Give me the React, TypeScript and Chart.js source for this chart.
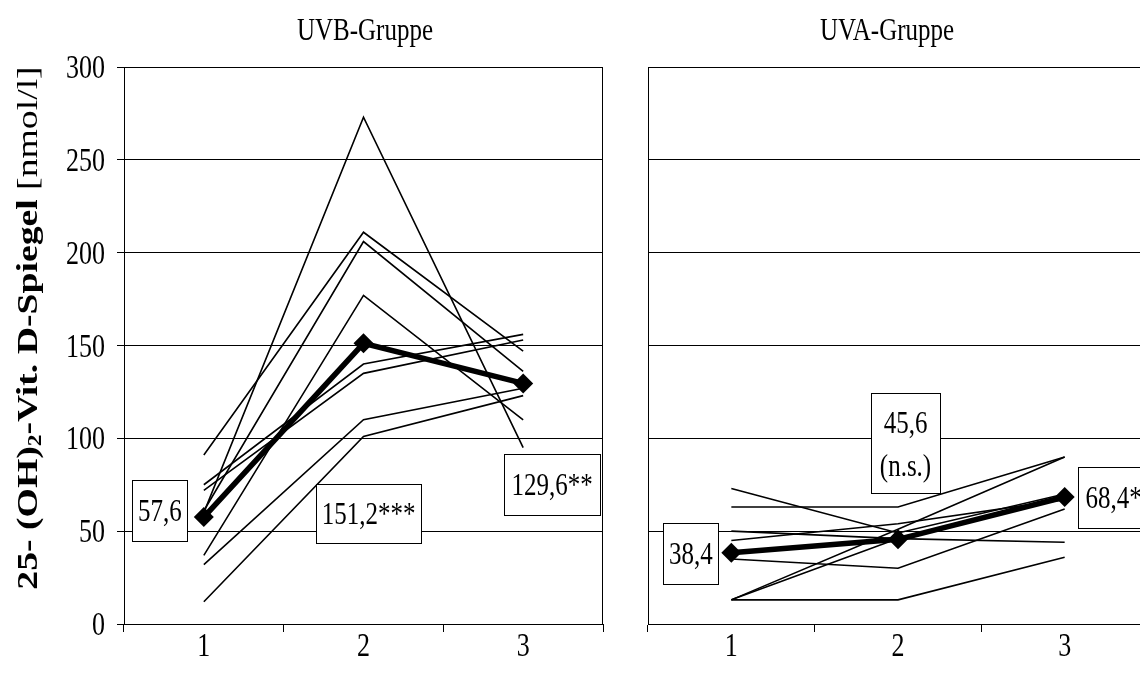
import React, { useEffect, useRef } from "react";
import { Chart, registerables } from "chart.js";

Chart.register(...registerables);

// ---------- data ----------
const categories = ["1", "2", "3"];
const yTickValues = [0, 50, 100, 150, 200, 250, 300];

const uvbPatient1 = [60, 273, 95];
const uvbPatient2 = [91, 211, 147];
const uvbPatient3 = [61, 206, 136];
const uvbPatient4 = [37, 177, 110];
const uvbPatient5 = [75, 140, 156];
const uvbPatient6 = [72, 135, 153];
const uvbPatient7 = [32, 110, 127];
const uvbPatient8 = [12, 101, 123];
const uvbMean = [57.6, 151.2, 129.6];
const uvbMeanLabels = [["57,6"], ["151,2***"], ["129,6**"]];

const uvaPatient1 = [73, 49, 70];
const uvaPatient2 = [63, 63, 90];
const uvaPatient3 = [50, 46, 44];
const uvaPatient4 = [45, 54, 67];
const uvaPatient5 = [35, 30, 62];
const uvaPatient6 = [13, 13, 36];
const uvaPatient7 = [13, 51, 90];
const uvaPatient8 = [13, 46, 68];
const uvaMean = [38.4, 45.6, 68.4];
const uvaMeanLabels = [["38,4"], ["45,6", "(n.s.)"], ["68,4*"]];

const uvbTitle = "UVB-Gruppe";
const uvaTitle = "UVA-Gruppe";
const yTitleBold1 = "25- (OH)";
const yTitleSub = "2";
const yTitleBold2 = "-Vit. D-Spiegel ";
const yTitleNormal = "[nmol/l]";

// ---------- styles / layout ----------
const FONT = '"Liberation Serif", "Times New Roman", serif';
const SY = 1.3; // vertical stretch of all text
const TICK_F = 26;
const TITLE_F = 25;
const BOX_F = 25;
const YT_F = 29;

type Box = { dx: number; dy: number; w: number; h: number };
type Panel = {
  series: number[][];
  mean: number[];
  labels: string[][];
  title: string;
  canvasLeft: number;
  canvasWidth: number;
  padRight: number;
  yAxisWidth: number;
  showYTicks: boolean;
  titleX: number;
  boxes: Box[];
  yTitle: boolean;
};

const panels: Panel[] = [
  {
    series: [uvbPatient1, uvbPatient2, uvbPatient3, uvbPatient4, uvbPatient5, uvbPatient6, uvbPatient7, uvbPatient8],
    mean: uvbMean,
    labels: uvbMeanLabels,
    title: uvbTitle,
    canvasLeft: 0,
    canvasWidth: 620,
    padRight: 17,
    yAxisWidth: 124,
    showYTicks: true,
    titleX: 365,
    boxes: [
      { dx: -44, dy: -6.5, w: 55, h: 61 },
      { dx: 5, dy: 170, w: 105, h: 59 },
      { dx: 29, dy: 101, w: 96, h: 61 },
    ],
    yTitle: true,
  },
  {
    series: [uvaPatient1, uvaPatient2, uvaPatient3, uvaPatient4, uvaPatient5, uvaPatient6, uvaPatient7, uvaPatient8],
    mean: uvaMean,
    labels: uvaMeanLabels,
    title: uvaTitle,
    canvasLeft: 620,
    canvasWidth: 540,
    padRight: 12,
    yAxisWidth: 28,
    showYTicks: false,
    titleX: 267,
    boxes: [
      { dx: -40.5, dy: 1, w: 55, h: 61 },
      { dx: 7.5, dy: -96, w: 69, h: 100 },
      { dx: 49, dy: 0.5, w: 72, h: 61 },
    ],
    yTitle: false,
  },
];

function stretchedText(
  ctx: CanvasRenderingContext2D,
  text: string,
  x: number,
  cy: number,
  size: number,
  align: CanvasTextAlign,
  weight = "normal"
) {
  ctx.save();
  ctx.translate(x, cy);
  ctx.scale(1, SY);
  ctx.font = `${weight} ${size}px ${FONT}`;
  ctx.textAlign = align;
  ctx.textBaseline = "alphabetic";
  ctx.fillStyle = "#000";
  ctx.fillText(text, 0, 0.33 * size);
  ctx.restore();
}

function makePlugin(p: Panel) {
  return {
    id: "panelDecor",
    afterDatasetsDraw(chart: any) {
      const ctx: CanvasRenderingContext2D = chart.ctx;
      const ca = chart.chartArea;
      const xs = chart.scales.x;
      const ys = chart.scales.y;
      ctx.save();
      ctx.strokeStyle = "#000";
      ctx.lineWidth = 1;
      // plot frame (top + right)
      const R = Math.round(ca.right) - 0.5;
      const L = Math.round(ca.left) + 0.5;
      const T = Math.round(ca.top) + 0.5;
      const B = Math.round(ca.bottom) + 0.5;
      ctx.beginPath();
      ctx.moveTo(L, T);
      ctx.lineTo(R, T);
      ctx.lineTo(R, B);
      ctx.stroke();
      // mean value boxes
      p.mean.forEach((v, i) => {
        const px = xs.getPixelForValue(i);
        const py = ys.getPixelForValue(v);
        const b = p.boxes[i];
        const cx = px + b.dx;
        const cy = py + b.dy;
        const x0 = Math.round(cx - b.w / 2) + 0.5;
        const y0 = Math.round(cy - b.h / 2) + 0.5;
        ctx.fillStyle = "#fff";
        ctx.fillRect(x0, y0, b.w, b.h);
        ctx.strokeRect(x0, y0, b.w, b.h);
        const lines = p.labels[i];
        const gap = 43;
        lines.forEach((t, k) => {
          const ly = cy + (k - (lines.length - 1) / 2) * gap;
          stretchedText(ctx, t, cx, ly, BOX_F, "center");
        });
      });
      ctx.restore();
    },
    afterDraw(chart: any) {
      const ctx: CanvasRenderingContext2D = chart.ctx;
      const ca = chart.chartArea;
      const xs = chart.scales.x;
      const ys = chart.scales.y;
      if (p.showYTicks) {
        yTickValues.forEach((v) => {
          stretchedText(ctx, String(v), ca.left - 19, ys.getPixelForValue(v), TICK_F, "right");
        });
      }
      categories.forEach((c, i) => {
        stretchedText(ctx, c, xs.getPixelForValue(i), 645, TICK_F, "center");
      });
      stretchedText(ctx, p.title, p.titleX, 29, TITLE_F, "center");
      if (p.yTitle) {
        ctx.save();
        ctx.translate(27, 328);
        ctx.scale(1, SY);
        ctx.rotate(-Math.PI / 2);
        ctx.fillStyle = "#000";
        ctx.textBaseline = "alphabetic";
        ctx.textAlign = "left";
        const parts = [
          { t: yTitleBold1, f: `bold ${YT_F}px ${FONT}`, dy: 0 },
          { t: yTitleSub, f: `bold ${Math.round(YT_F * 0.62)}px ${FONT}`, dy: 0.15 * YT_F },
          { t: yTitleBold2, f: `bold ${YT_F}px ${FONT}`, dy: 0 },
          { t: yTitleNormal, f: `normal ${YT_F}px ${FONT}`, dy: 0 },
        ];
        let total = 0;
        parts.forEach((q) => {
          ctx.font = q.f;
          total += ctx.measureText(q.t).width;
        });
        let x = -total / 2;
        parts.forEach((q) => {
          ctx.font = q.f;
          ctx.fillText(q.t, x, 0.33 * YT_F + q.dy);
          x += ctx.measureText(q.t).width;
        });
        ctx.restore();
      }
    },
  };
}

function PanelChart({ p }: { p: Panel }) {
  const ref = useRef<HTMLCanvasElement | null>(null);
  useEffect(() => {
    if (!ref.current) return;
    const datasets: any[] = [
      {
        data: p.mean,
        borderColor: "#000",
        backgroundColor: "#000",
        borderWidth: 5.5,
        pointStyle: "rectRot",
        pointRadius: 10,
        pointBorderWidth: 0,
        pointBackgroundColor: "#000",
        tension: 0,
      },
      ...p.series.map((s) => ({
        data: s,
        borderColor: "#000",
        borderWidth: 1.6,
        pointRadius: 0,
        tension: 0,
      })),
    ];
    const chart = new Chart(ref.current, {
      type: "line",
      data: { labels: categories, datasets },
      options: {
        animation: false,
        responsive: false,
        maintainAspectRatio: false,
        devicePixelRatio: 1,
        layout: { padding: { left: 0, top: 67, right: p.padRight, bottom: 0 } },
        plugins: { legend: { display: false }, tooltip: { enabled: false }, title: { display: false } },
        scales: {
          x: {
            type: "category",
            offset: true,
            grid: { offset: true, drawOnChartArea: false, drawTicks: true, tickLength: 8, color: "#000", lineWidth: 1 },
            border: { display: true, color: "#000", width: 1 },
            ticks: { display: false },
            afterFit: (s: any) => {
              s.height = 58;
            },
          },
          y: {
            min: 0,
            max: 300,
            ticks: { stepSize: 50, display: false },
            grid: { color: "#000", lineWidth: 1, drawTicks: p.showYTicks, tickLength: 7 },
            border: { display: true, color: "#000", width: 1 },
            afterFit: (s: any) => {
              s.width = p.yAxisWidth;
            },
          },
        },
      } as any,
      plugins: [makePlugin(p)],
    });
    return () => chart.destroy();
  }, [p]);
  return (
    <canvas
      ref={ref}
      width={p.canvasWidth}
      height={682}
      style={{ position: "absolute", left: p.canvasLeft, top: 0, width: p.canvasWidth, height: 682 }}
    />
  );
}

export default function App() {
  return (
    <div
      style={{
        position: "fixed",
        left: 0,
        top: 0,
        width: 1140,
        height: 682,
        overflow: "hidden",
        background: "#fff",
      }}
    >
      {panels.map((p, i) => (
        <PanelChart key={i} p={p} />
      ))}
    </div>
  );
}
